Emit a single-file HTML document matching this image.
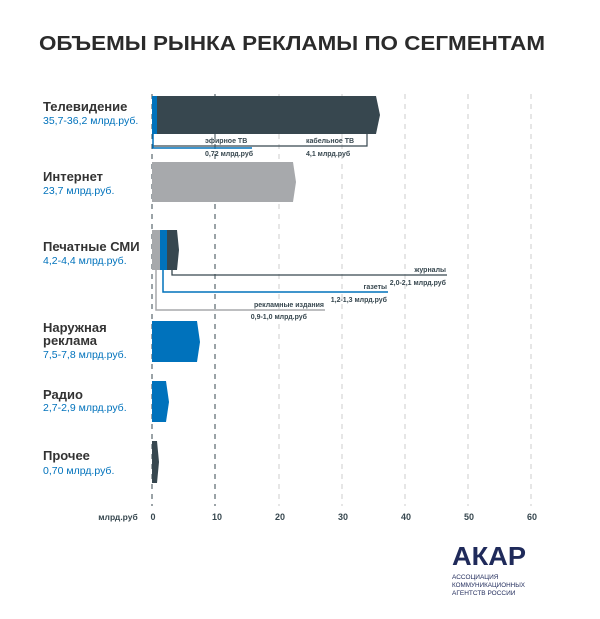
<!DOCTYPE html>
<html><head><meta charset="utf-8"><style>
body{margin:0;background:#fff;width:600px;height:614px;overflow:hidden;font-family:"Liberation Sans",sans-serif}
</style></head><body>
<svg width="600" height="614" xmlns="http://www.w3.org/2000/svg" font-family="Liberation Sans, sans-serif">
<text x="292" y="50" text-anchor="middle" font-size="20.5" font-weight="bold" fill="#2b2b2b" textLength="506" lengthAdjust="spacingAndGlyphs">ОБЪЕМЫ РЫНКА РЕКЛАМЫ ПО СЕГМЕНТАМ</text>
<g stroke-dasharray="5,5" stroke-width="1">
<line x1="152" y1="94" x2="152" y2="506" stroke="#37474f"/>
<line x1="215" y1="94" x2="215" y2="506" stroke="#37474f"/>
<line x1="279" y1="94" x2="279" y2="506" stroke="#ccc"/>
<line x1="342" y1="94" x2="342" y2="506" stroke="#ccc"/>
<line x1="405" y1="94" x2="405" y2="506" stroke="#ccc"/>
<line x1="468" y1="94" x2="468" y2="506" stroke="#ccc"/>
<line x1="531" y1="94" x2="531" y2="506" stroke="#ccc"/>
</g>
<g font-size="9" font-weight="bold" fill="#37474f" text-anchor="middle">
<text x="153" y="520">0</text><text x="217" y="520">10</text><text x="280" y="520">20</text><text x="343" y="520">30</text><text x="406" y="520">40</text><text x="469" y="520">50</text><text x="532" y="520">60</text>
<text x="118" y="520" font-size="8.5">млрд.руб</text>
</g>
<!-- TV -->
<polygon points="152,96 376,96 380,115 376,134 152,134" fill="#37474f"/>
<rect x="152" y="96" width="5" height="38" fill="#0072bc"/>
<polyline points="367,134 367,146 153,146" fill="none" stroke="#37474f" stroke-width="1.2"/>
<polyline points="153,134 153,148 252,148" fill="none" stroke="#0072bc" stroke-width="1.5"/>
<g font-size="7" font-weight="bold" fill="#37474f">
<text x="205" y="143">эфирное ТВ</text><text x="205" y="156">0,72 млрд.руб</text>
<text x="306" y="143">кабельное ТВ</text><text x="306" y="156">4,1 млрд.руб</text>
</g>
<!-- Internet -->
<polygon points="152,162 293,162 296,182 293,202 152,202" fill="#a7a9ac"/>
<!-- Print -->
<rect x="152" y="230" width="8" height="40" fill="#a7a9ac"/>
<rect x="160" y="230" width="7" height="40" fill="#0072bc"/>
<polygon points="167,230 177,230 179,250 177,270 167,270" fill="#37474f"/>
<polyline points="172,270 172,275 447,275" fill="none" stroke="#37474f" stroke-width="1.3"/>
<polyline points="163,270 163,292 388,292" fill="none" stroke="#0072bc" stroke-width="1.5"/>
<polyline points="156,270 156,310 325,310" fill="none" stroke="#a7a9ac" stroke-width="1.5"/>
<g font-size="7" font-weight="bold" fill="#37474f" text-anchor="end">
<text x="446" y="272">журналы</text><text x="446" y="285">2,0-2,1 млрд.руб</text>
<text x="387" y="289">газеты</text><text x="387" y="302">1,2-1,3 млрд.руб</text>
<text x="324" y="307">рекламные издания</text><text x="307" y="319">0,9-1,0 млрд.руб</text>
</g>
<!-- Outdoor -->
<polygon points="152,321 197,321 200,342 197,362 152,362" fill="#0072bc"/>
<!-- Radio -->
<polygon points="152,381 166,381 169,402 166,422 152,422" fill="#0072bc"/>
<!-- Other -->
<polygon points="152,441 157,441 159,462 157,483 152,483" fill="#37474f"/>
<!-- labels -->
<g font-size="13" font-weight="bold" fill="#333">
<text x="43" y="111">Телевидение</text>
<text x="43" y="181">Интернет</text>
<text x="43" y="251">Печатные СМИ</text>
<text x="43" y="332">Наружная</text><text x="43" y="345">реклама</text>
<text x="43" y="399">Радио</text>
<text x="43" y="460">Прочее</text>
</g>
<g font-size="10.5" fill="#0072bc">
<text x="43" y="124">35,7-36,2 млрд.руб.</text>
<text x="43" y="194">23,7 млрд.руб.</text>
<text x="43" y="264">4,2-4,4 млрд.руб.</text>
<text x="43" y="358">7,5-7,8 млрд.руб.</text>
<text x="43" y="411">2,7-2,9 млрд.руб.</text>
<text x="43" y="474">0,70 млрд.руб.</text>
</g>
<text x="452" y="565" font-size="26" font-weight="bold" fill="#1f2a5a" textLength="74" lengthAdjust="spacingAndGlyphs">АКАР</text>
<g font-size="6.5" fill="#1f2a5a">
<text x="452" y="579">АССОЦИАЦИЯ</text>
<text x="452" y="587" textLength="73" lengthAdjust="spacingAndGlyphs">КОММУНИКАЦИОННЫХ</text>
<text x="452" y="595">АГЕНТСТВ РОССИИ</text>
</g>
</svg>
</body></html>
